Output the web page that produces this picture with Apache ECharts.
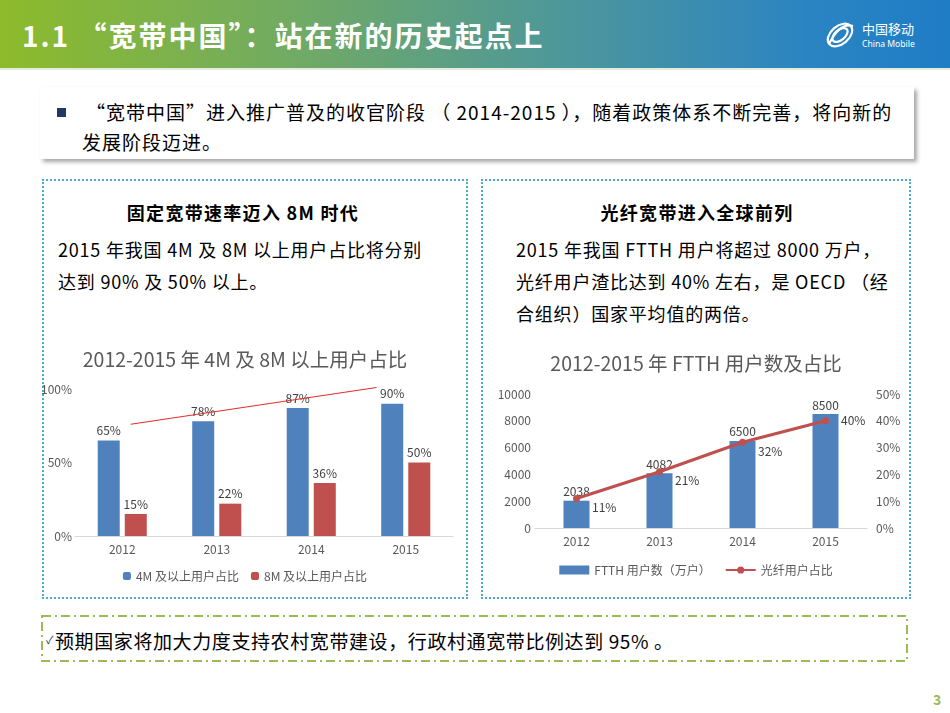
<!DOCTYPE html>
<html><head><meta charset="utf-8">
<script src="https://cdn.jsdelivr.net/npm/echarts@6/dist/echarts.min.js"></script>
<style>
html,body{margin:0;padding:0;width:950px;height:713px;background:#fff;overflow:hidden;font-family:"Noto Sans CJK SC","Noto Sans",sans-serif;}
.abs{position:absolute;white-space:nowrap;}
#header{position:absolute;left:0;top:0;width:950px;height:68px;background:linear-gradient(to right,#8dbb2b 0%,#72ab62 30%,#4a95a0 62%,#2b84c2 85%,#1f7dc6 100%);border-bottom:2px solid #e3ebdc;}
#title{left:22px;top:16px;font-size:28px;letter-spacing:2px;font-weight:bold;color:#fff;line-height:38px;}
#bulletbox{position:absolute;left:40px;top:87px;width:874px;height:72px;background:#fff;box-shadow:3px 3px 4px rgba(0,0,0,0.35);}
.t18{font-size:19px;letter-spacing:1px;color:#000;line-height:26px;}
.t17{font-size:18px;letter-spacing:0.8px;color:#000;line-height:24px;}
.hd{font-size:18px;letter-spacing:1.3px;font-weight:bold;color:#000;line-height:24px;}
.panel{position:absolute;border:2px dotted #4bacc6;box-sizing:border-box;}
</style></head>
<body>
<div id="header"></div>
<div class="abs" id="title">1.1 “宽带中国”：站在新的历史起点上</div>
<svg class="abs" style="left:822px;top:14px" width="100" height="42" viewBox="0 0 100 42">
  <g fill="none" stroke="#fff" stroke-width="2.2">
    <ellipse cx="18" cy="21" rx="14" ry="9" transform="rotate(-40 18 21)"/>
    <ellipse cx="18" cy="21" rx="9" ry="5" transform="rotate(-40 18 21)"/>
    <path d="M7 30 Q18 8 31 12"/>
  </g>
  <text x="40" y="20" fill="#fff" font-size="13" font-family="Noto Sans CJK SC">中国移动</text>
  <text x="40" y="33" fill="#fff" font-size="8.6" font-family="Noto Sans">China Mobile</text>
</svg>

<div id="bulletbox"></div>
<div class="abs" style="left:57px;top:108px;width:9px;height:9px;background:#1f3864"></div>
<div class="abs t18" style="left:86px;top:99px;">“宽带中国”进入推广普及的收官阶段 （ 2014-2015 ），随着政策体系不断完善，将向新的</div>
<div class="abs t18" style="left:82px;top:129px;">发展阶段迈进。</div>

<div class="panel" style="left:42px;top:179px;width:426px;height:420px"></div>
<div class="panel" style="left:481px;top:179px;width:430px;height:420px"></div>

<div class="abs hd" style="left:42px;width:402px;text-align:center;top:200px;">固定宽带速率迈入 8M 时代</div>
<div class="abs t17" style="left:58px;top:237px;">2015 年我国 4M 及 8M 以上用户占比将分别</div>
<div class="abs t17" style="left:58px;top:269px;">达到 90% 及 50% 以上。</div>

<div class="abs hd" style="left:481px;width:432px;text-align:center;top:200px;">光纤宽带进入全球前列</div>
<div class="abs t17" style="left:516px;top:237px;">2015 年我国 FTTH 用户将超过 8000 万户，</div>
<div class="abs t17" style="left:516px;top:269px;">光纤用户渣比达到 40% 左右，是 OECD （经</div>
<div class="abs t17" style="left:516px;top:301px;">合组织）国家平均值的两倍。</div>

<div id="c1" class="abs" style="left:20px;top:335px;width:450px;height:260px"></div>
<div id="c2" class="abs" style="left:482px;top:335px;width:428px;height:260px"></div>

<svg class="abs" style="left:40px;top:614px" width="870" height="50">
  <rect x="2" y="2" width="865" height="45" fill="none" stroke="#9bbb59" stroke-width="2" stroke-dasharray="9 4 2 4"/>
</svg>
<div class="abs" style="left:46px;top:631px;font-size:11px;color:#1f3864;">✓</div>
<div class="abs t18" style="left:55px;top:628px;letter-spacing:0.6px;">预期国家将加大力度支持农村宽带建设，行政村通宽带比例达到 95% 。</div>
<div class="abs" style="left:933px;top:689px;font-size:14px;font-weight:bold;color:#9bbb59;">3</div>

<script>
// ---- data ----
var years = ['2012', '2013', '2014', '2015'];
var share4M = [65, 78, 87, 90];
var share8M = [15, 22, 36, 50];
var trendLineX = [0.09, 2.69];   // hand-drawn trend line, in category units
var trendLineY = [76, 101];
var ftthUsers = [2038, 4082, 6500, 8500];
var fiberShare = [11, 21, 32, 40];
var leftTicksMax = 100, leftTicksStep = 50;
var usersMax = 10000, usersStep = 2000;
var shareMax = 50, shareStep = 10;

var FONT = '"Noto Sans CJK SC","Noto Sans",sans-serif';
var grey = '#595959';

var c1 = echarts.init(document.getElementById('c1'));
c1.setOption({
  animation: false,
  textStyle: {fontFamily: FONT},
  title: {text: '2012-2015 年 4M 及 8M 以上用户占比', left: 'center', top: 10,
    textStyle: {fontSize: 19.5, fontWeight: 'normal', color: grey, fontFamily: FONT}},
  legend: {bottom: 8, left: 'center', itemWidth: 8, itemHeight: 8, itemGap: 12,
    textStyle: {fontSize: 12, color: grey, fontFamily: FONT},
    data: ['4M 及以上用户占比', '8M 及以上用户占比']},
  grid: {left: 55, right: 17, top: 54, bottom: 59},
  xAxis: [
    {type: 'category', data: years, axisTick: {show: false},
     axisLine: {lineStyle: {color: '#d9d9d9'}},
     axisLabel: {color: grey, fontSize: 12, margin: 7}},
    {type: 'value', min: -0.5, max: 3.5, show: false}
  ],
  yAxis: {type: 'value', min: 0, max: leftTicksMax, interval: leftTicksStep,
    splitLine: {show: false}, axisLine: {show: false}, axisTick: {show: false},
    axisLabel: {formatter: '{value}%', color: grey, fontSize: 12, margin: 3}},
  series: [
    {name: '4M 及以上用户占比', type: 'bar', data: share4M, barWidth: 22, barGap: '23%',
     itemStyle: {color: '#4f81bd'},
     label: {show: true, position: 'top', formatter: '{c}%', color: '#404040', fontSize: 12, distance: 4}},
    {name: '8M 及以上用户占比', type: 'bar', data: share8M, barWidth: 22,
     itemStyle: {color: '#c0504d'},
     label: {show: true, position: 'top', formatter: '{c}%', color: '#404040', fontSize: 12, distance: 4}},
    {type: 'line', xAxisIndex: 1, data: trendLineX.map(function(x, i){return [x, trendLineY[i]];}),
     showSymbol: false, symbol: 'none', clip: false, silent: true,
     lineStyle: {color: '#e0302c', width: 1.2}}
  ]
});

var c2 = echarts.init(document.getElementById('c2'));
c2.setOption({
  animation: false,
  textStyle: {fontFamily: FONT},
  title: {text: '2012-2015 年 FTTH 用户数及占比', left: 'center', top: 14,
    textStyle: {fontSize: 19.5, fontWeight: 'normal', color: grey, fontFamily: FONT}},
  legend: {bottom: 14, left: 'center', itemGap: 14,
    textStyle: {fontSize: 12, color: grey, fontFamily: FONT},
    data: [{name: 'FTTH 用户数（万户）', icon: 'rect', itemStyle: {color: '#4f81bd'}}, {name: '光纤用户占比'}],
    itemWidth: 30, itemHeight: 9},
  grid: {left: 53, right: 43, top: 59, bottom: 67},
  xAxis: {type: 'category', data: years, axisTick: {show: false},
    axisLine: {lineStyle: {color: '#d9d9d9'}},
    axisLabel: {color: grey, fontSize: 12, margin: 7}},
  yAxis: [
    {type: 'value', min: 0, max: usersMax, interval: usersStep,
     splitLine: {show: false}, axisLine: {show: false}, axisTick: {show: false},
     axisLabel: {color: grey, fontSize: 12, margin: 4, formatter: function(v){return String(v);}}},
    {type: 'value', min: 0, max: shareMax, interval: shareStep, position: 'right',
     splitLine: {show: false}, axisLine: {show: false}, axisTick: {show: false},
     axisLabel: {formatter: '{value}%', color: grey, fontSize: 12, margin: 9}}
  ],
  series: [
    {name: 'FTTH 用户数（万户）', type: 'bar', data: ftthUsers, barWidth: 26,
     itemStyle: {color: '#4f81bd'},
     label: {show: true, position: 'top', color: '#404040', fontSize: 12, distance: 3}},
    {name: '光纤用户占比', type: 'line', yAxisIndex: 1,
     data: fiberShare.map(function(v, i){
       return {value: v, label: {offset: i === fiberShare.length - 1 ? [0, 0] : [0, 9]}};
     }),
     symbol: 'circle', symbolSize: 7, color: '#c0504d',
     lineStyle: {color: '#c0504d', width: 3}, itemStyle: {color: '#c0504d'},
     label: {show: true, position: 'right', formatter: '{c}%', color: '#404040', fontSize: 12, distance: 12}}
  ]
});
</script>
</body></html>
